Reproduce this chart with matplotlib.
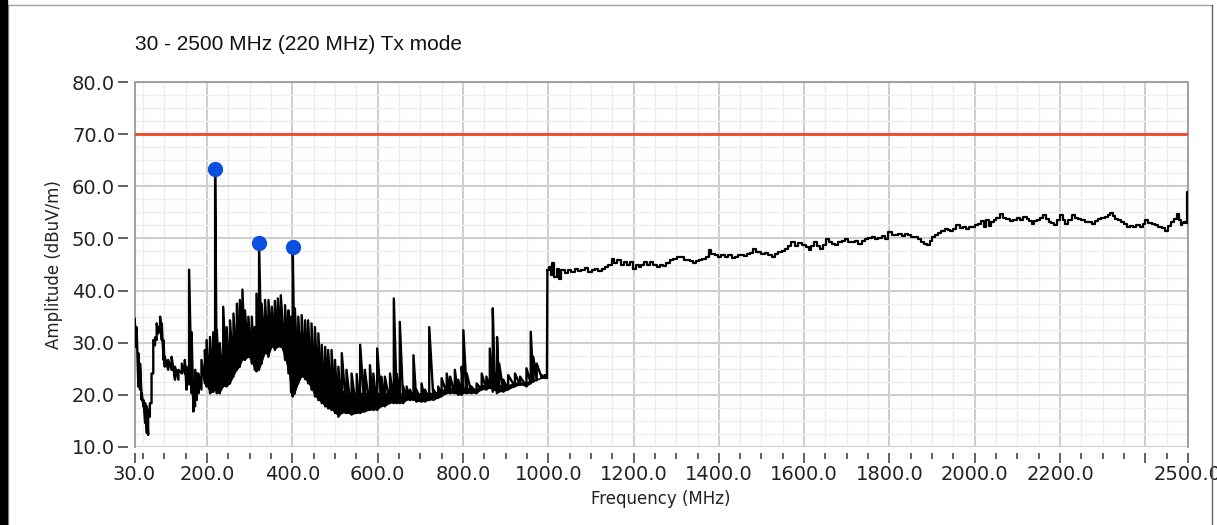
import numpy as np
import matplotlib
matplotlib.use("Agg")
import matplotlib.pyplot as plt
from matplotlib.patches import Rectangle
from matplotlib.lines import Line2D

# ---- data ----
# 30 - 1000 MHz: comb region, per frequency the low edge, top of the solid part, and tooth top
band_f = [30, 35, 39, 43, 47, 51, 55, 59, 62, 66, 70, 74, 78, 82, 86, 90, 94, 98, 101, 109,
          117, 125, 133, 141, 148, 152, 158, 164, 168, 172, 176, 180, 187, 195, 199, 207, 215, 219, 223, 230,
          238, 246, 254, 262, 270, 277, 283, 289, 297, 305, 312, 316, 322, 328, 336, 344, 352, 359, 366, 373,
          383, 391, 397, 401, 406, 414, 422, 430, 437, 445, 453, 461, 469, 477, 484, 492, 500, 508, 516, 527,
          539, 551, 559, 570, 582, 590, 599, 609, 617, 629, 638, 645, 652, 660, 668, 676, 684, 691, 703, 711,
          721, 731, 742, 750, 762, 770, 781, 789, 797, 801, 809, 820, 832, 844, 855, 863, 870, 875, 880, 885,
          895, 906, 922, 934, 949, 959, 965, 973, 985, 992, 997]
band_lo = [29.2, 29.2, 21.6, 21.0, 19.0, 17.8, 14.6, 12.7, 12.3, 15.8, 18.4, 24.1, 29.5, 30.5, 31.8, 32.4, 30.5, 26.7, 25.4, 24.8,
           24.8, 22.9, 22.9, 24.1, 24.1, 21.0, 22.0, 20.3, 16.8, 17.8, 19.0, 20.3, 21.0, 22.2, 21.6, 20.3, 20.6, 21.0, 20.3, 20.3,
           21.6, 21.6, 22.2, 23.5, 24.8, 25.4, 26.7, 26.7, 27.3, 26.0, 24.8, 24.5, 24.8, 26.0, 28.0, 27.3, 29.2, 28.6, 29.2, 29.2,
           26.7, 24.1, 20.5, 19.7, 20.3, 22.2, 23.5, 23.0, 22.2, 21.0, 19.7, 19.0, 18.4, 17.8, 17.4, 17.1, 16.5, 15.8, 16.5, 16.5,
           16.2, 16.5, 16.5, 16.8, 17.1, 17.1, 17.1, 17.8, 17.8, 18.4, 18.4, 18.4, 18.4, 18.4, 19.0, 19.0, 19.0, 18.7, 18.7, 18.7,
           19.0, 19.0, 19.4, 19.7, 20.3, 20.3, 20.3, 20.0, 20.0, 20.3, 20.3, 20.3, 20.3, 21.0, 21.0, 21.3, 20.6, 21.0, 20.3, 20.6,
           20.6, 21.0, 21.6, 21.9, 21.6, 22.2, 22.5, 22.8, 23.2, 23.2, 23.2]
band_core = [29.2, 29.2, 21.6, 21.0, 19.0, 17.8, 14.6, 12.7, 12.3, 15.8, 18.4, 24.1, 29.5, 30.5, 31.8, 32.4, 30.5, 26.7, 25.4, 24.8,
             24.8, 22.9, 22.9, 24.1, 24.1, 21.0, 22.0, 20.3, 16.8, 17.8, 19.0, 20.3, 21.0, 22.2, 23.0, 25.0, 26.0, 26.0, 26.5, 27.0,
             28.0, 28.5, 29.0, 30.0, 30.5, 31.0, 31.5, 32.0, 32.0, 32.0, 31.5, 31.5, 32.0, 32.0, 32.5, 33.0, 33.0, 33.0, 33.0, 33.0,
             32.5, 32.0, 31.0, 30.5, 30.0, 30.0, 29.5, 29.0, 28.5, 27.5, 26.5, 25.5, 24.5, 23.5, 23.0, 22.0, 21.5, 21.0, 21.0, 20.5,
             20.5, 20.5, 20.5, 20.5, 20.5, 20.5, 20.5, 20.5, 20.5, 20.5, 20.5, 20.5, 20.5, 20.3, 20.3, 20.3, 20.3, 20.3, 20.5, 20.5,
             20.5, 20.5, 20.8, 21.0, 21.5, 21.5, 21.5, 21.5, 21.5, 21.5, 21.5, 21.3, 21.3, 22.0, 22.0, 22.0, 22.0, 22.0, 22.0, 22.0,
             22.0, 22.0, 22.5, 22.5, 22.5, 23.0, 23.0, 23.2, 23.4, 23.4, 23.2]
band_hi = [34.7, 33.0, 28.0, 26.0, 20.3, 19.0, 18.4, 17.8, 17.1, 18.4, 24.1, 30.5, 31.0, 33.7, 33.0, 35.0, 33.7, 30.5, 27.3, 26.7,
           27.3, 25.4, 24.8, 26.0, 26.7, 25.4, 44.0, 32.0, 21.6, 24.8, 24.1, 24.1, 26.7, 28.6, 30.5, 31.1, 32.0, 63.3, 32.4, 29.9,
           36.9, 33.0, 34.3, 35.6, 37.5, 38.2, 40.2, 36.2, 35.0, 35.0, 33.0, 39.4, 49.2, 37.5, 38.2, 38.2, 36.9, 38.0, 38.5, 39.1,
           37.2, 36.2, 35.0, 48.4, 36.6, 35.0, 35.3, 34.3, 34.3, 33.7, 33.0, 31.8, 29.6, 29.2, 28.6, 28.6, 26.7, 25.4, 28.0, 24.8,
           24.1, 24.0, 29.6, 24.8, 25.7, 24.1, 28.9, 23.5, 23.5, 24.1, 38.5, 24.0, 34.0, 21.6, 21.6, 21.0, 27.6, 21.0, 22.2, 21.0,
           33.0, 21.0, 21.6, 23.2, 24.1, 23.5, 24.8, 22.9, 25.4, 32.4, 24.1, 21.6, 22.2, 24.1, 23.5, 28.9, 36.6, 24.1, 31.1, 26.0,
           22.9, 23.8, 24.1, 23.5, 25.1, 32.1, 27.3, 26.0, 23.8, 23.8, 23.8]

# 1000 - 2500 MHz: single trace
up_f = [998, 1000, 1004, 1008, 1012, 1016, 1023, 1027, 1035, 1043, 1051, 1058, 1066, 1074, 1082, 1090, 1098, 1105, 1113, 1121,
        1129, 1137, 1145, 1152, 1156, 1168, 1174, 1180, 1188, 1195, 1203, 1209, 1215, 1221, 1227, 1235, 1242, 1250, 1258, 1266,
        1273, 1281, 1289, 1297, 1305, 1316, 1322, 1328, 1336, 1344, 1350, 1356, 1367, 1373, 1379, 1385, 1395, 1402, 1410, 1418,
        1426, 1434, 1442, 1450, 1457, 1463, 1469, 1477, 1485, 1490, 1496, 1504, 1512, 1520, 1528, 1536, 1543, 1551, 1559, 1566,
        1574, 1582, 1590, 1602, 1608, 1613, 1619, 1625, 1633, 1641, 1648, 1656, 1662, 1668, 1676, 1684, 1692, 1699, 1707, 1715,
        1723, 1731, 1738, 1746, 1754, 1762, 1770, 1778, 1786, 1793, 1801, 1809, 1817, 1825, 1832, 1840, 1848, 1855, 1863, 1871,
        1879, 1885, 1891, 1897, 1903, 1910, 1918, 1926, 1934, 1940, 1946, 1953, 1961, 1969, 1977, 1983, 1990, 1996, 2004, 2012,
        2018, 2024, 2030, 2035, 2041, 2047, 2055, 2063, 2070, 2078, 2086, 2094, 2102, 2110, 2118, 2125, 2131, 2137, 2143, 2149,
        2157, 2164, 2170, 2176, 2182, 2188, 2196, 2203, 2209, 2215, 2223, 2231, 2239, 2246, 2254, 2262, 2270, 2278, 2286, 2293,
        2301, 2309, 2315, 2321, 2327, 2332, 2340, 2348, 2354, 2360, 2368, 2375, 2383, 2391, 2397, 2403, 2411, 2418, 2426, 2434,
        2442, 2450, 2457, 2465, 2471, 2477, 2481, 2485, 2489, 2493, 2497, 2499]
up_v = [43.9, 43.9, 44.5, 43.0, 45.2, 42.6, 44.2, 42.3, 43.9, 43.4, 43.9, 43.5, 44.2, 43.7, 43.9, 44.3, 43.6, 44.0, 44.2, 43.8,
        44.2, 44.6, 44.9, 46.1, 45.2, 45.8, 45.0, 45.5, 45.0, 45.5, 44.2, 44.9, 44.5, 45.0, 45.5, 45.0, 45.5, 45.0, 44.5, 45.0,
        44.7, 45.3, 45.8, 46.0, 46.4, 46.4, 45.8, 45.8, 45.6, 45.2, 45.7, 45.8, 46.1, 46.5, 47.7, 47.1, 46.8, 46.4, 46.8, 46.5,
        46.8, 46.2, 46.4, 46.9, 46.8, 46.6, 47.1, 47.3, 48.0, 47.4, 47.4, 47.0, 47.2, 46.8, 46.4, 47.0, 47.4, 47.6, 48.0, 48.5,
        49.3, 48.6, 49.1, 48.7, 48.4, 47.7, 48.6, 49.3, 48.6, 48.0, 48.8, 49.9, 49.3, 49.0, 48.8, 49.3, 49.5, 49.9, 49.4, 49.3,
        49.6, 49.0, 49.5, 49.8, 50.0, 50.3, 49.8, 50.1, 50.4, 49.9, 51.2, 50.7, 50.6, 50.9, 50.4, 50.8, 50.6, 50.3, 50.3, 49.8,
        49.3, 49.0, 48.7, 49.5, 50.3, 50.6, 51.0, 51.4, 51.9, 51.6, 51.5, 51.9, 52.5, 52.0, 52.1, 51.9, 52.2, 52.2, 52.5, 52.8,
        53.3, 52.2, 53.5, 52.4, 53.2, 53.5, 53.9, 54.6, 54.0, 53.8, 53.3, 53.5, 53.9, 53.6, 54.1, 53.8, 53.3, 52.8, 53.3, 53.5,
        53.9, 54.4, 53.7, 53.1, 52.9, 52.5, 53.5, 54.4, 53.6, 52.8, 53.6, 54.4, 54.0, 53.8, 53.5, 53.1, 53.2, 52.8, 53.3, 53.8,
        53.9, 54.1, 54.5, 54.9, 54.3, 53.8, 53.5, 53.1, 52.7, 52.2, 52.4, 52.2, 52.5, 52.2, 52.8, 53.5, 53.0, 52.8, 52.5, 52.2,
        52.0, 51.5, 52.3, 53.1, 53.8, 54.7, 53.5, 52.5, 52.9, 53.1, 53.0, 58.9]

# marked peaks
peak_f = [219, 322, 401]
peak_v = [63.3, 49.2, 48.4]

limit_v = 70.0

x_major = [30, 200, 400, 600, 800, 1000, 1200, 1400, 1600, 1800, 2000, 2200, 2400, 2500]
x_labels = ["30.0", "200.0", "400.0", "600.0", "800.0", "1000.0", "1200.0", "1400.0",
            "1600.0", "1800.0", "2000.0", "2200.0", "", "2500.0"]
y_major = [10, 20, 30, 40, 50, 60, 70, 80]

# ---- figure ----
W, H = 1217, 525
fig = plt.figure(figsize=(W / 100, H / 100), dpi=100)
fig.patch.set_facecolor("white")
ax = fig.add_axes([134.5 / W, 1 - 447 / H, (1188 - 134.5) / W, (447 - 82) / H])
ax.set_xlim(30, 2500)
ax.set_ylim(10, 80)

for s in ax.spines.values():
    s.set_visible(False)
ax.spines["left"].set_position(("outward", 5))
ax.spines["bottom"].set_position(("outward", 4))

ax.set_xticks(x_major)
ax.set_xticklabels(x_labels)
ax.set_xticks([m for m in range(50, 2500, 50) if m not in x_major], minor=True)
ax.set_yticks(y_major)
ax.set_yticklabels([f"{v:.1f}" for v in y_major])
ax.set_yticks(np.arange(10, 80, 2.5), minor=True)

ax.tick_params(axis="both", which="major", length=7, width=1.3, color="#555555",
               labelsize=14, labelcolor="#222222", pad=2)
ax.tick_params(axis="x", which="minor", length=4, width=1.3, color="#555555")
ax.tick_params(axis="y", which="minor", length=0)
for lab in ax.get_xticklabels() + ax.get_yticklabels():
    lab.set_family("DejaVu Sans")

ax.grid(True, which="major", color="#cfcfcf", lw=1.5)
ax.grid(True, which="minor", color="#eeeeee", lw=1.0)
ax.set_axisbelow(True)

# plot border (left, top, right)
ax.plot([0, 0, 1, 1], [0, 1, 1, 0], transform=ax.transAxes, color="#9a9a9a", lw=1.3,
        clip_on=False, zorder=1)

# limit line
ax.axhline(limit_v, color="#f2462a", lw=2, zorder=2)

# comb region: solid part plus teeth
ax.fill_between(band_f, band_lo, band_core, color="black", lw=0, zorder=3)
zx = np.repeat(band_f, 2)
zy = np.column_stack([band_lo, band_hi]).ravel()
ax.plot(np.append(zx, up_f[0]), np.append(zy, up_v[0]), color="black", lw=1.7, zorder=3)
ax.plot(up_f, up_v, color="black", lw=1.6, drawstyle="steps-mid", zorder=3)

ax.plot(peak_f, peak_v, "o", color="#0b4fe0", ms=10, zorder=5)

ax.set_xlabel("Frequency (MHz)", fontsize=12, family="DejaVu Sans", color="#222222", labelpad=4)
ax.set_ylabel("Amplitude (dBuV/m)", fontsize=12, family="DejaVu Sans", color="#222222", labelpad=6)

fig.text(135 / W, 1 - 45 / H, "30 - 2500 MHz (220 MHz) Tx mode", fontsize=15,
         family="Liberation Sans", va="center", ha="left", color="#111111")

# outer frame
fig.patches.append(Rectangle((0, 0), 7 / W, 1, transform=fig.transFigure, color="black", zorder=10))
fig.lines.append(Line2D([8 / W, 8 / W], [0, 1 - 5 / H], transform=fig.transFigure, color="#a0a0a0", lw=1))
fig.lines.append(Line2D([8 / W, 1212 / W], [1 - 5 / H, 1 - 5 / H], transform=fig.transFigure, color="#a0a0a0", lw=1))
fig.lines.append(Line2D([1212 / W, 1212 / W], [0, 1 - 5 / H], transform=fig.transFigure, color="#606060", lw=1))

fig.savefig("out.png", dpi=100, facecolor="white")
